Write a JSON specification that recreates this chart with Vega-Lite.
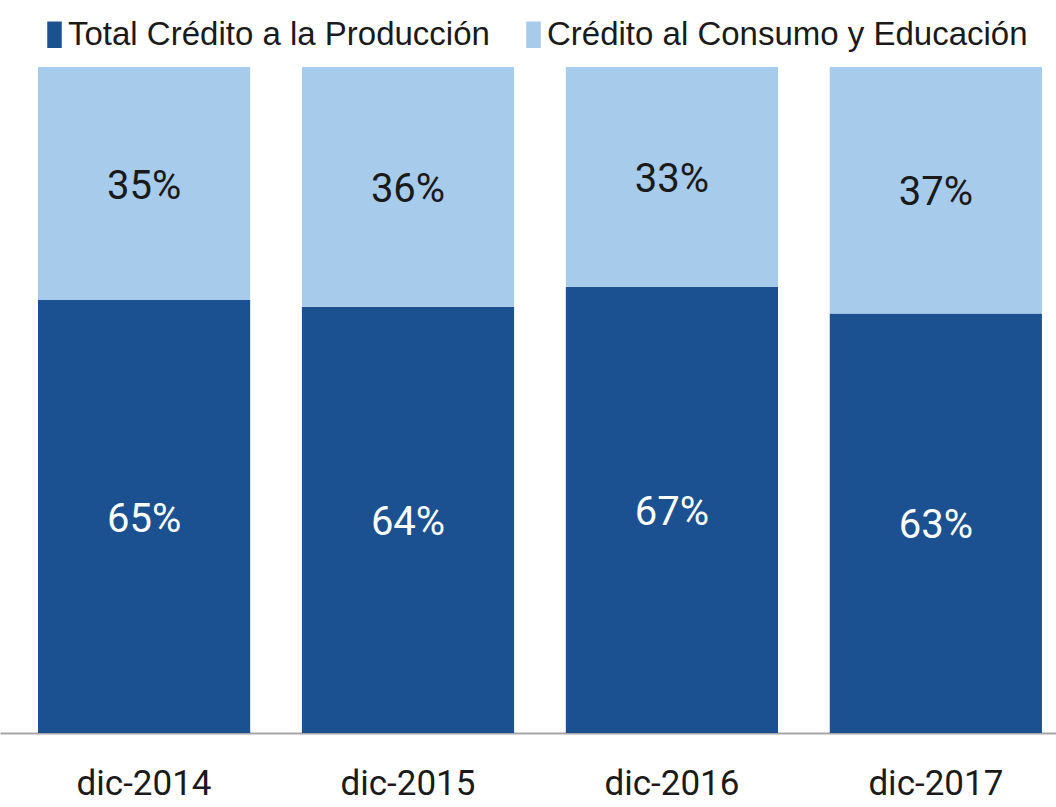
{
  "$schema": "https://vega.github.io/schema/vega-lite/v6.json",
  "autosize": {"type": "none"},
  "padding": {"left": 0, "right": 0, "top": 67, "bottom": 74},
  "width": 1056,
  "height": 666,
  "background": "white",
  "config": {"view": {"stroke": null}},
  "data": {
    "values": [
      {"anio": "dic-2014", "serie": "Total Crédito a la Producción", "orden": 0, "valor": 65},
      {"anio": "dic-2014", "serie": "Crédito al Consumo y Educación", "orden": 1, "valor": 35},
      {"anio": "dic-2015", "serie": "Total Crédito a la Producción", "orden": 0, "valor": 64},
      {"anio": "dic-2015", "serie": "Crédito al Consumo y Educación", "orden": 1, "valor": 36},
      {"anio": "dic-2016", "serie": "Total Crédito a la Producción", "orden": 0, "valor": 67},
      {"anio": "dic-2016", "serie": "Crédito al Consumo y Educación", "orden": 1, "valor": 33},
      {"anio": "dic-2017", "serie": "Total Crédito a la Producción", "orden": 0, "valor": 63},
      {"anio": "dic-2017", "serie": "Crédito al Consumo y Educación", "orden": 1, "valor": 37}
    ]
  },
  "transform": [
    {"stack": "valor", "groupby": ["anio"], "sort": [{"field": "orden", "order": "ascending"}], "as": ["v0", "v1"]},
    {"calculate": "(datum.v0 + datum.v1) / 2", "as": "mid"},
    {"calculate": "datum.valor + '%'", "as": "etiqueta"}
  ],
  "encoding": {
    "x": {
      "field": "anio", "type": "nominal", "sort": null,
      "scale": {"paddingInner": 0.196, "paddingOuter": 0.0986, "align": 0.73},
      "axis": {
        "title": null, "labelAngle": 0, "ticks": false,
        "domainColor": "#a6a6a6", "domainWidth": 2,
        "labelFont": "Roboto", "labelFontSize": 35, "labelColor": "#1a1a1a",
        "labelPadding": 33
      }
    }
  },
  "layer": [
    {
      "mark": {"type": "bar"},
      "encoding": {
        "y": {"field": "v0", "type": "quantitative", "scale": {"domain": [0, 100]}, "axis": null},
        "y2": {"field": "v1"},
        "color": {
          "field": "serie", "type": "nominal",
          "scale": {
            "domain": ["Total Crédito a la Producción", "Crédito al Consumo y Educación"],
            "range": ["#1b5190", "#a6cbeb"]
          },
          "legend": {
            "title": null, "orient": "none", "direction": "horizontal",
            "legendX": 38, "legendY": -49,
            "symbolType": "M-0.55,-1H0.55V1H-0.55Z", "symbolSize": 700,
            "symbolStrokeWidth": 0,
            "labelFont": "Liberation Sans", "labelFontSize": 33, "labelColor": "#1a1a1a",
            "labelOffset": -3, "columnPadding": 27, "labelLimit": 600
          }
        }
      }
    },
    {
      "mark": {"type": "text", "font": "Roboto", "fontSize": 40, "baseline": "middle", "align": "center", "dy": 3},
      "encoding": {
        "y": {"field": "mid", "type": "quantitative", "scale": {"domain": [0, 100]}},
        "text": {"field": "etiqueta", "type": "nominal"},
        "color": {
          "condition": {"test": "datum.serie === 'Total Crédito a la Producción'", "value": "#ffffff"},
          "value": "#1a1a1a"
        }
      }
    }
  ]
}
